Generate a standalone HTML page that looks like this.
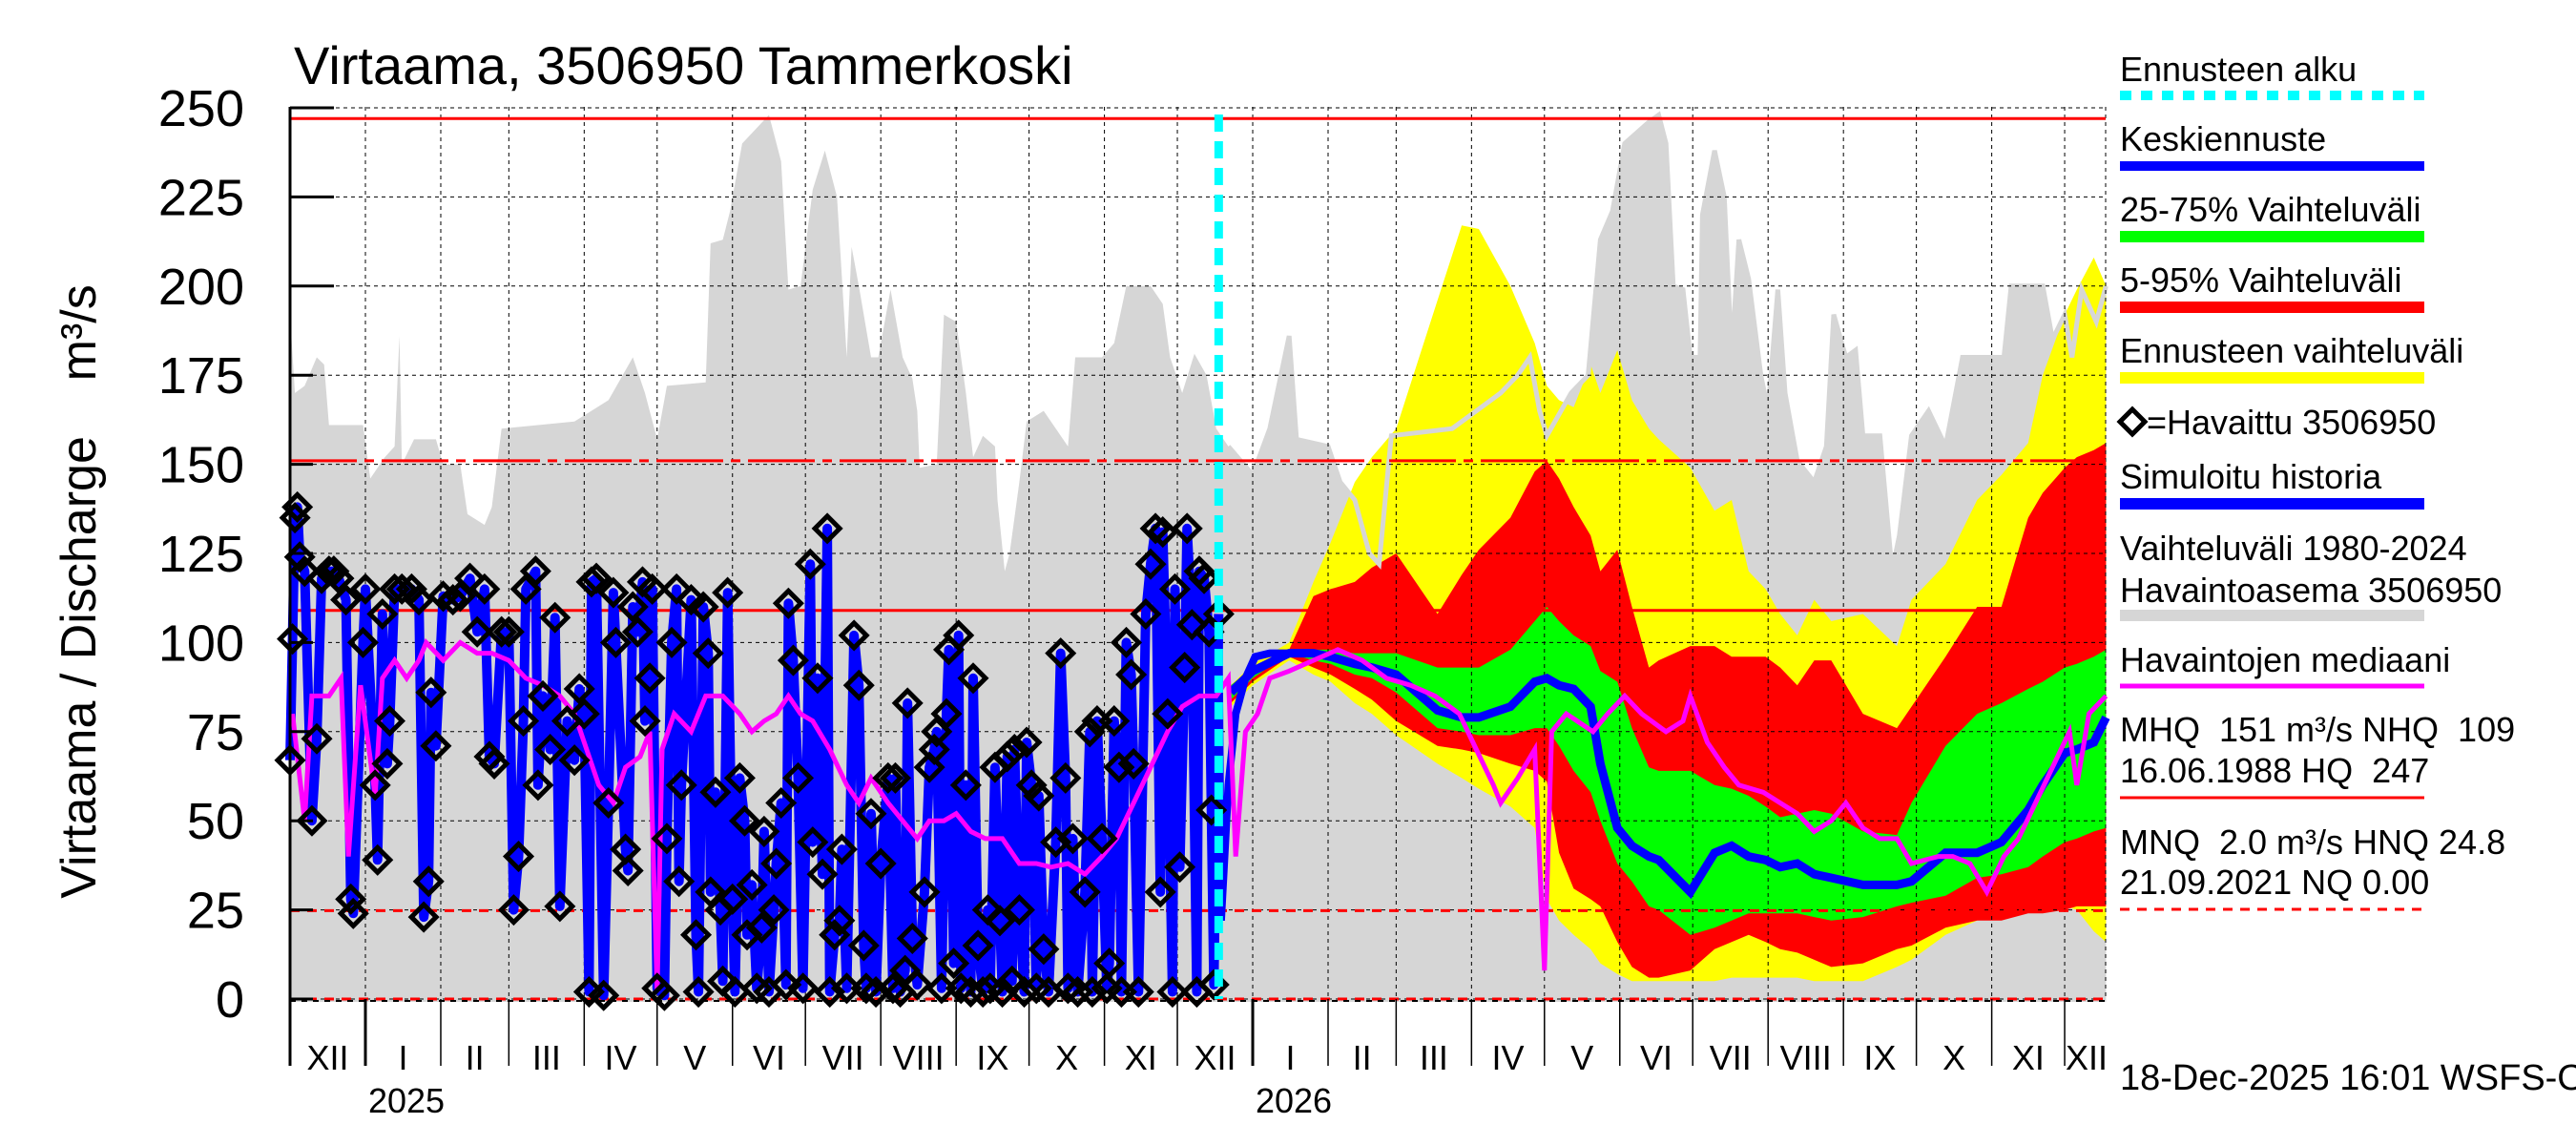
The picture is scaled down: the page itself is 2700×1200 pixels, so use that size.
<!DOCTYPE html>
<html><head><meta charset="utf-8"><style>
html,body{margin:0;padding:0;background:#fff;}
svg{display:block;font-family:"Liberation Sans",sans-serif;}
text{white-space:pre;}
</style></head><body>
<svg id="chart" width="2700" height="1200" viewBox="0 0 2700 1200" xmlns="http://www.w3.org/2000/svg">
<g id="g-gray"></g>
<g id="g-bands"></g>
<g id="g-grid"></g>
<g id="g-ref"></g>
<g id="g-series"></g>
<g id="g-axes"></g>
<g id="g-legend"></g>
<text x="308" y="88" font-size="56">Virtaama, 3506950 Tammerkoski</text>
<text transform="translate(100,620) rotate(-90)" text-anchor="middle" font-size="52">Virtaama / Discharge    m³/s</text>
<text x="2222" y="1142" font-size="38">18-Dec-2025 16:01 WSFS-O</text>
</svg>
<script>
// ---- data (days from 2025-01-01, values in m3/s) ----
const yTicks=[0,25,50,75,100,125,150,175,200,225,250];
const monthLabels=["XII","I","II","III","IV","V","VI","VII","VIII","IX","X","XI","XII","I","II","III","IV","V","VI","VII","VIII","IX","X","XI","XII"];
const monthStarts=[-31,0,31,59,90,120,151,181,212,243,273,304,334,365,396,424,455,485,516,546,577,608,638,669,699];
const yearLabels=["2025","2026"];
const yearDays=[0,365];
const refValues=[247,151,109,24.8,0];
const forecastStartDay=351;

const grayDays=[-31,-29,-25,-20,-17,-15,-1,2,8,12,14,15,20,29,32,39,42,49,52,56,86,100,110,115,120,124,140,142,147,150,155,166,171,174,179,184,189,194,198,200,203,208,211,216,221,225,227,228,235,238,243,247,250,254,259,260,263,265,269,272,279,289,292,303,308,313,323,328,331,336,341,346,350,355,365,372,380,383,396,401,407,413,417,422,447,457,467,474,479,483,486,496,503,508,513,518,528,532,535,538,542,545,549,550,555,559,562,565,569,574,577,581,584,589,596,601,604,609,613,616,623,628,631,636,643,650,657,674,677,690,694,699,702,706,712,716];
const grayMax=[192,170,172,180,178,161,161,146,152,155,186,150,157,157,150,150,136,133,138,160,162,168,180,170,157,172,173,212,213,221,240,248,235,199,200,227,238,225,180,211,200,180,180,199,180,174,165,149,150,192,190,170,152,158,155,140,120,125,145,162,165,155,180,180,184,200,200,195,180,170,181,175,160,155,147,160,186,157,155,145,140,125,122,158,160,165,170,175,180,165,158,170,175,213,221,240,246,248,240,200,199,180,180,220,238,225,180,213,202,175,165,199,170,151,145,155,192,180,182,158,158,120,130,158,165,155,180,180,200,200,185,192,180,199,190,200];

const bandDays=[356,365,380,390,397,407,414,424,441,451,458,471,481,486,491,497,504,508,515,521,528,532,545,555,562,569,576,582,589,596,603,616,630,636,650,663,673,684,690,699,704,711,716];
const yellowHigh=[88,94,100,117,128,145,152,160,196,217,216,200,184,172,168,166,178,170,182,168,160,157,149,137,140,120,115,108,102,112,106,108,99,112,122,140,147,156,175,192,199,208,200];
const redHigh=[88,93,98,113,115,117,121,125,108,119,126,135,148,151,146,138,130,120,126,110,93,95,99,99,96,96,96,93,88,95,95,80,76,82,96,110,110,135,142,149,152,154,156];
const greenHigh=[88,93,98,98,98,97,97,97,93,93,93,98,106,110,106,102,99,92,89,76,65,64,64,60,59,57,54,51,52,53,52,47,46,55,71,80,83,87,89,93,94,96,98];
const forecastMedian=[86,92,97,97,96,94,93,91,81,79,79,82,89,90,88,87,82,66,48,43,40,39,30,41,43,40,39,37,38,35,34,32,32,33,41,41,44,53,60,69,70,72,79];
const greenLow=[84,90,97,95,94,91,90,86,76,75,74,74,76,76,71,64,58,50,38,33,26,25,18,20,22,24,24,24,24,23,22,23,26,27,29,34,35,37,40,44,45,47,48];
const redLow=[83,89,96,93,91,87,84,78,71,70,69,66,64,61,41,31,28,26,16,9,6,6,8,14,16,18,16,14,13,11,9,10,14,15,20,22,22,24,24,25,26,26,26];
const yellowLow=[82,88,95,91,89,83,80,74,66,62,59,54,48,28,22,18,14,10,7,5,5,5,5,5,6,6,6,6,6,5,5,5,9,11,18,22,23,25,26,26,25,19,16];

const medianDays=[-30,-25,-22,-15,-10,-7,-2,4,7,12,17,22,25,32,39,46,52,59,66,73,80,86,91,96,102,107,113,117,120,122,127,134,140,147,154,159,164,169,174,179,184,191,198,203,208,215,221,227,232,238,243,249,255,262,269,276,282,289,296,303,309,316,323,330,336,343,350,355,358,362,367,372,380,390,400,410,420,430,440,450,457,464,467,474,481,485,488,494,505,511,518,525,535,542,545,552,559,565,575,582,589,596,603,609,616,623,630,636,647,653,660,667,674,680,687,694,701,704,709,716];
const medianVals=[80,50,85,85,90,40,88,57,90,95,90,95,100,95,100,97,97,95,90,88,85,80,70,60,55,65,68,75,2,70,80,75,85,85,80,75,78,80,85,80,78,70,60,55,62,55,50,45,50,50,52,47,45,45,38,38,37,38,35,40,45,55,65,75,82,85,85,90,40,75,80,90,92,95,98,95,90,88,85,80,70,60,55,62,70,8,75,80,75,80,85,80,75,78,85,72,65,60,58,55,52,47,50,55,48,45,45,38,40,40,38,30,40,45,55,65,75,60,80,85];

const obsDays=[-31,-30,-29,-28,-27,-25,-22,-20,-18,-15,-13,-11,-8,-6,-5,-1,0,4,5,7,9,10,12,15,19,22,24,26,27,29,32,36,39,43,46,49,51,53,56,59,61,63,65,66,70,71,73,76,78,80,83,86,88,90,92,93,95,98,100,102,103,107,108,110,112,114,115,117,118,120,123,124,126,128,129,130,134,136,137,139,141,142,144,146,147,149,151,152,154,156,157,159,161,163,164,166,168,169,171,173,174,176,178,180,183,184,186,188,190,191,193,195,196,198,201,203,205,206,208,210,212,215,217,218,220,222,223,225,227,230,232,234,235,237,239,240,242,244,245,247,249,250,252,254,256,257,259,261,262,264,266,267,269,271,272,274,276,277,279,281,284,286,288,289,291,293,296,298,299,301,303,305,306,308,310,311,313,315,316,318,321,323,325,327,328,330,332,333,335,337,338,340,342,343,345,347,348,349,351];
const obsVals=[67,101,135,138,124,120,50,73,118,120,120,118,112,28,24,100,115,60,39,108,66,78,115,115,115,112,23,33,86,71,113,112,113,118,103,115,68,66,103,103,25,40,78,115,120,60,85,70,107,26,78,67,87,80,2,117,118,1,55,114,100,42,36,110,103,117,78,90,115,3,1,45,100,115,33,60,112,18,2,110,97,30,58,25,5,114,28,2,62,50,18,32,3,20,47,2,25,38,55,4,111,95,62,3,122,44,90,35,132,2,18,22,42,3,102,88,15,3,52,2,38,62,3,62,2,8,83,17,4,30,65,70,75,3,80,98,10,102,3,60,2,90,15,2,25,3,65,22,2,68,5,70,25,2,72,60,3,57,14,2,44,97,62,3,45,2,30,75,2,78,45,3,10,78,65,2,100,91,66,2,108,122,132,30,131,80,2,115,37,93,132,105,2,120,118,103,53,4,108];
const simTailDays=[351,352,355,358,362,366,372,380];
const simTailVals=[108,22,60,80,90,96,97,97];

// ---- scales ----
const X0=383, PXD=2.548, Y0=1047, PXV=3.736, LEFT=304, RIGHT=2207, TOP=112;
const xs=d=>X0+d*PXD;
const ys=v=>Y0-v*PXV;
const NS="http://www.w3.org/2000/svg";
function mk(tag,attrs,parent){const e=document.createElementNS(NS,tag);for(const k in attrs)e.setAttribute(k,attrs[k]);parent.appendChild(e);return e;}
const gGray=document.getElementById('g-gray'),gBands=document.getElementById('g-bands'),gGrid=document.getElementById('g-grid'),gRef=document.getElementById('g-ref'),gS=document.getElementById('g-series'),gAx=document.getElementById('g-axes'),gL=document.getElementById('g-legend');
const pts=(ds,vs)=>ds.map((d,i)=>xs(d).toFixed(1)+","+ys(vs[i]).toFixed(1));

// gray historical area
let gp=pts(grayDays,grayMax);
gp.push(xs(grayDays[grayDays.length-1]).toFixed(1)+","+(Y0+3));
gp.push(xs(grayDays[0]).toFixed(1)+","+(Y0+3));
let el=mk('polygon',{points:gp.join(' '),fill:'#d6d6d6'},gGray);



// forecast bands
function band(hi,lo,color,name){
  const p=pts(bandDays,hi).concat(pts(bandDays.slice().reverse(),lo.slice().reverse()));
  const b=mk('polygon',{points:p.join(' '),fill:color},gBands);
  
  
}
band(yellowHigh,yellowLow,'#ffff00','forecast-range-band');
band(redHigh,redLow,'#ff0000','band-5-95');
band(greenHigh,greenLow,'#00ff00','band-25-75');
el=mk('polyline',{points:pts(grayDays.filter(d=>d>=forecastStartDay),grayMax.filter((v,i)=>grayDays[i]>=forecastStartDay)).join(' '),fill:'none',stroke:'#d6d6d6','stroke-width':5},gBands);



// grid
yTicks.forEach(v=>{
  const l=mk('line',{x1:LEFT,x2:RIGHT,y1:ys(v),y2:ys(v),stroke:'#000','stroke-width':1,'stroke-dasharray':'4,4'},gGrid);
  
  
});
monthStarts.forEach(d=>{
  const l=mk('line',{x1:xs(d),x2:xs(d),y1:TOP,y2:Y0,stroke:'#000','stroke-width':1,'stroke-dasharray':'4,4'},gGrid);
  
  
});
mk('line',{x1:RIGHT,x2:RIGHT,y1:TOP,y2:Y0,stroke:'#000','stroke-width':1,'stroke-dasharray':'4,4'},gGrid);

// reference lines
refValues.forEach((v,i)=>{
  const a={x1:LEFT,x2:RIGHT,y1:ys(v),y2:ys(v),stroke:'#ff0000','stroke-width':3};
  if(i===1)a['stroke-dasharray']='70,8,10,8';
  if(i===3||i===4)a['stroke-dasharray']='10,8';
  const l=mk('line',a,gRef);
  
  
});

// simulated history (blue)
el=mk('polyline',{points:pts(obsDays,obsVals).join(' '),fill:'none',stroke:'#0000ff','stroke-width':10,'stroke-linejoin':'round'},gS);


el=mk('polyline',{points:pts(simTailDays,simTailVals).join(' '),fill:'none',stroke:'#0000ff','stroke-width':8},gS);


el=mk('polyline',{points:pts(bandDays,forecastMedian).join(' '),fill:'none',stroke:'#0000ff','stroke-width':9},gS);


el=mk('polyline',{points:pts(medianDays,medianVals).join(' '),fill:'none',stroke:'#ff00ff','stroke-width':5},gS);


obsDays.forEach((d,i)=>{
  const x=xs(d),y=ys(obsVals[i]),r=13;
  const p=mk('polygon',{points:`${x},${y-r} ${x+r},${y} ${x},${y+r} ${x-r},${y}`,fill:'none',stroke:'#000','stroke-width':5},gS);
  
  
});
el=mk('line',{x1:xs(forecastStartDay),x2:xs(forecastStartDay),y1:TOP+8,y2:Y0,stroke:'#00ffff','stroke-width':9,'stroke-dasharray':'18,10'},gS);



// axes
mk('line',{x1:LEFT,x2:LEFT,y1:TOP,y2:1117,stroke:'#000','stroke-width':3},gAx);
mk('line',{x1:LEFT,x2:RIGHT,y1:Y0+2,y2:Y0+2,stroke:'#000','stroke-width':2,'stroke-dasharray':'6,6'},gAx);
yTicks.forEach(v=>{
  mk('line',{x1:LEFT,x2:LEFT+(v>=200?46:24),y1:ys(v),y2:ys(v),stroke:'#000','stroke-width':3},gAx);
  const t=mk('text',{x:256,y:ys(v)+19,'text-anchor':'end','font-size':54},gAx);
  t.textContent=v;
  
  
});
monthStarts.forEach((d,i)=>{
  const yr=yearDays.includes(d);
  mk('line',{x1:xs(d),x2:xs(d),y1:Y0,y2:1117,stroke:'#000','stroke-width':yr?3:1.5},gAx);
  const next=i+1<monthStarts.length?monthStarts[i+1]:717;
  const t=mk('text',{x:(xs(d)+xs(next))/2,y:1121,'text-anchor':'middle','font-size':36},gAx);
  t.textContent=monthLabels[i];
  
  
});
yearLabels.forEach((s,i)=>{
  const t=mk('text',{x:xs(yearDays[i])+43,y:1166,'text-anchor':'middle','font-size':36},gAx);
  t.textContent=s;
  
  
});

// legend
const LX=2222,LX2=2541;
function ltext(s,y){const t=mk('text',{x:LX,y:y,'font-size':36},gL);t.textContent=s;}
function lline(y,c,w,dash){const a={x1:LX,x2:LX2,y1:y,y2:y,stroke:c,'stroke-width':w};if(dash)a['stroke-dasharray']=dash;const l=mk('line',a,gL);}
ltext("Ennusteen alku",85); lline(100,'#00ffff',10,'12,10');
ltext("Keskiennuste",158); lline(174,'#0000ff',10);
ltext("25-75% Vaihteluväli",232); lline(248,'#00ff00',12);
ltext("5-95% Vaihteluväli",306); lline(322,'#ff0000',12);
ltext("Ennusteen vaihteluväli",380); lline(396,'#ffff00',12);
el=mk('polygon',{points:`${LX},442 ${LX+13},429 ${LX+26},442 ${LX+13},455`,fill:'none',stroke:'#000','stroke-width':5},gL);


let t=mk('text',{x:LX+28,y:455,'font-size':36},gL);t.textContent="=Havaittu 3506950";


ltext("Simuloitu historia",512); lline(528,'#0000ff',12);
ltext("Vaihteluväli 1980-2024",587); ltext("Havaintoasema 3506950",631); lline(645,'#d6d6d6',12);
ltext("Havaintojen mediaani",704); lline(719,'#ff00ff',5);
ltext("MHQ  151 m³/s NHQ  109",777); ltext("16.06.1988 HQ  247",820); lline(836,'#ff0000',3);
ltext("MNQ  2.0 m³/s HNQ 24.8",895); ltext("21.09.2021 NQ 0.00",937); lline(953,'#ff0000',3,'10,8');
</script>
</body></html>
